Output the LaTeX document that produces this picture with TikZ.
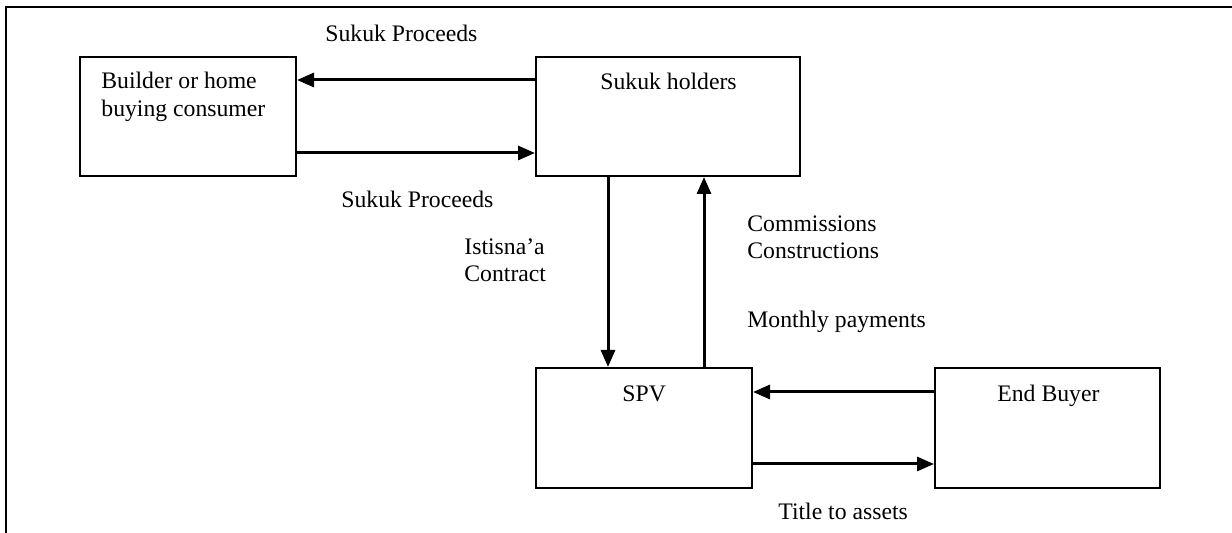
\documentclass[tikz,border=0pt]{standalone}
\usepackage{fontspec}
\setmainfont{Liberation Serif}
\usetikzlibrary{arrows.meta,fit}
\begin{document}
\begin{tikzpicture}[x=0.5pt,y=-0.5pt,
  box/.style={draw=black,line width=1pt,inner sep=0pt,fill=none},
  lbl/.style={inner sep=0pt,anchor=base west,font=\fontsize{11.85pt}{13.5pt}\selectfont},
  arr/.style={draw=black,line width=1.5pt,-{Triangle[length=8.5pt,width=7pt]}},
  frame/.style={draw=black,line width=1.2pt}]
\useasboundingbox (0,0) rectangle (1232,533);
% outer frame (open at bottom and right)
\draw[frame] (6,533) -- (6,7) -- (1232,7);
% boxes
\node[box,fit={(80,57) (296,176)}] (bld) {};
\node[box,fit={(536,57) (800,176)}] (sh) {};
\node[box,fit={(536,368) (752,488)}] (spv) {};
\node[box,fit={(935,368) (1160,488)}] (eb) {};
% box texts
\node[lbl] (bldA) at (101,89) {Builder or home};
\node[lbl] (bldB) at (101,117) {buying consumer};
\node[lbl] (shT) at (600,90) {Sukuk holders};
\node[lbl] (spvT) at (622,402) {SPV};
\node[lbl] (ebT) at (997,402) {End Buyer};
% connector labels
\node[lbl] (sp1) at (325,42) {Sukuk Proceeds};
\node[lbl] (sp2) at (341,208) {Sukuk Proceeds};
\node[lbl] (isA) at (464,255) {Istisna’a};
\node[lbl] (isB) at (464,282) {Contract};
\node[lbl] (cmA) at (747,232) {Commissions};
\node[lbl] (cmB) at (747,259) {Constructions};
\node[lbl] (mp) at (747,328) {Monthly payments};
\node[lbl] (ta) at (778,520) {Title to assets};
% connectors
\draw[arr] (sh.west |- 0,80) -- (bld.east |- 0,80);
\draw[arr] (bld.east |- 0,153) -- (sh.west |- 0,153);
\draw[arr] (sh.south -| 608,0) -- (spv.north -| 608,0);
\draw[arr] (spv.north -| 704,0) -- (sh.south -| 704,0);
\draw[arr] (eb.west |- 0,392) -- (spv.east |- 0,392);
\draw[arr] (spv.east |- 0,464) -- (eb.west |- 0,464);
\end{tikzpicture}
\end{document}
